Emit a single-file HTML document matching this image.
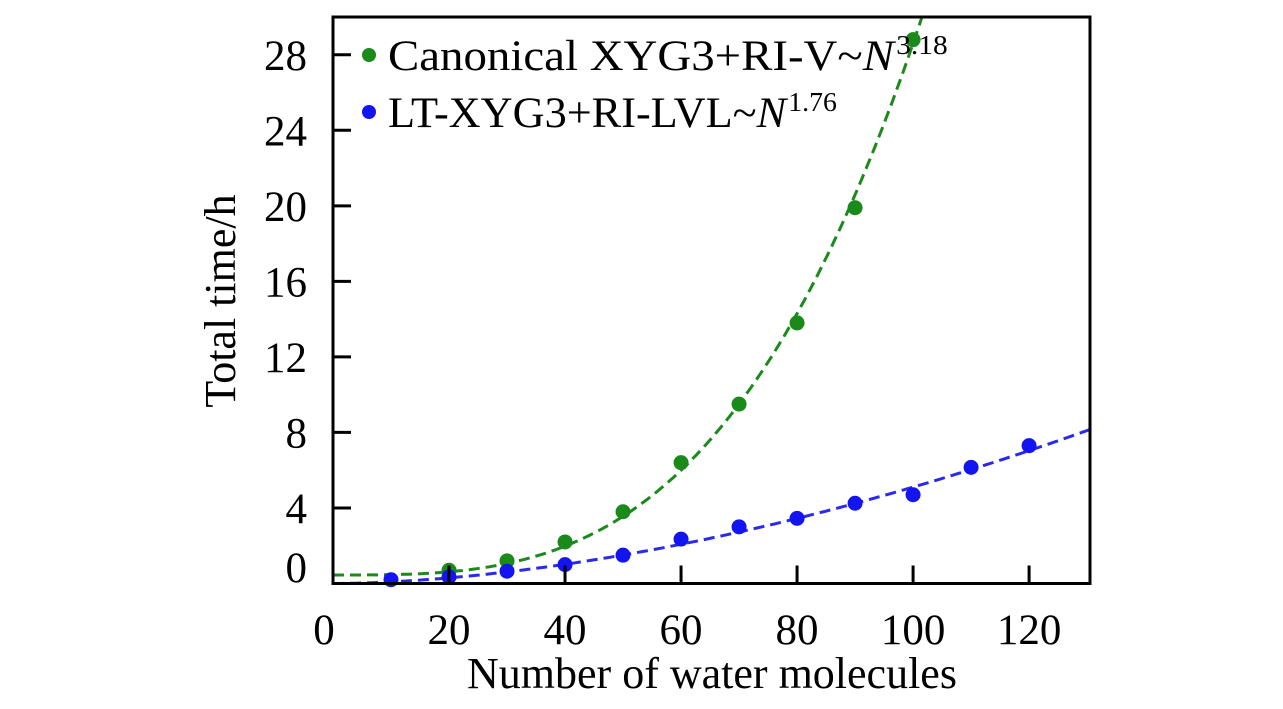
<!DOCTYPE html>
<html><head><meta charset="utf-8"><style>
html,body{margin:0;padding:0;background:#fff;}
svg{display:block;font-family:"Liberation Serif",serif;}
</style></head><body>
<svg id="c" width="1283" height="709" xmlns="http://www.w3.org/2000/svg"></svg>
<script>
const greenX = [20,30,40,50,60,70,80,90,100];
const greenY = [0.7,1.2,2.2,3.8,6.4,9.5,13.8,19.9,28.8];
const blueX = [10,20,30,40,50,60,70,80,90,100,110,120];
const blueY = [0.2,0.35,0.65,1.0,1.5,2.35,3.0,3.45,4.25,4.7,6.15,7.3];
const xTicks = [0,20,40,60,80,100,120];
const yTicks = [0,4,8,12,16,20,24,28];
const greenFit = {a:0.45, y100:28.6, p:3.18};
const blueFit = {a:0.0, y130:8.1, p:1.76};

const L=333,R=1090,T=17,B=583.5,XMAX=130.5,YMAX=30;
const sx=v=>L+v*(R-L)/XMAX, sy=v=>B-v*(B-T)/YMAX;
const svg=document.getElementById('c');
const NS='http://www.w3.org/2000/svg';
function mk(tag,attrs,parent){const e=document.createElementNS(NS,tag);for(const k in attrs)e.setAttribute(k,attrs[k]);(parent||svg).appendChild(e);return e;}

const defs=mk('clipPath',{id:'clip'});mk('rect',{x:L,y:T,width:R-L,height:B-T},defs);

const gb=(greenFit.y100-greenFit.a)/Math.pow(100,greenFit.p);
const bb=(blueFit.y130-blueFit.a)/Math.pow(130,blueFit.p);
let gp='',bp='';
for(let i=0;i<=300;i++){const n=XMAX*i/300;
 gp+=(i?'L':'M')+sx(n).toFixed(1)+','+sy(greenFit.a+gb*Math.pow(n,greenFit.p)).toFixed(1);
 bp+=(i?'L':'M')+sx(n).toFixed(1)+','+sy(blueFit.a+bb*Math.pow(n,blueFit.p)).toFixed(1);}
let e=mk('path',{d:gp,fill:'none',stroke:'#1a8a1a','stroke-width':3,'stroke-dasharray':'11,6','clip-path':'url(#clip)'});

e=mk('path',{d:bp,fill:'none',stroke:'#2a2aee','stroke-width':3,'stroke-dasharray':'11,6','clip-path':'url(#clip)'});


greenX.forEach((x,i)=>{const c=mk('circle',{cx:sx(x),cy:sy(greenY[i]),r:7.5,fill:'#1a8a1a'});
 });
blueX.forEach((x,i)=>{const c=mk('circle',{cx:sx(x),cy:sy(blueY[i]),r:7.5,fill:'#1414f0'});
 });

e=mk('rect',{x:L,y:T,width:R-L,height:B-T,fill:'none',stroke:'#000','stroke-width':3});


xTicks.forEach(t=>{if(t>0)mk('line',{x1:sx(t),x2:sx(t),y1:B,y2:B-18,stroke:'#000','stroke-width':3});
 const tx=mk('text',{x:sx(t)-(t===0?9:0),y:644,'font-size':43,'text-anchor':'middle'});tx.textContent=t;
 });
yTicks.forEach(t=>{if(t>0)mk('line',{x1:L,x2:L+18,y1:sy(t),y2:sy(t),stroke:'#000','stroke-width':3});
 const yy=t===0?567:sy(t);
 const tx=mk('text',{x:307,y:yy+15,'font-size':43,'text-anchor':'end'});tx.textContent=t;
 });

e=mk('text',{x:712,y:688,'font-size':44,'text-anchor':'middle'});e.textContent='Number of water molecules';

e=mk('text',{x:0,y:0,'font-size':44,'text-anchor':'middle',transform:'translate(235,301) rotate(-90)'});e.textContent='Total time/h';


e=mk('circle',{cx:369,cy:55,r:7,fill:'#1a8a1a'});
e=mk('text',{x:388,y:70,'font-size':43,transform:'translate(388,0) scale(1.09,1) translate(-388,0)'});e.innerHTML='Canonical XYG3+RI-V~<tspan font-style="italic">N</tspan><tspan font-size="27" dx="2" dy="-16">3.18</tspan>';

e=mk('circle',{cx:369,cy:112,r:7,fill:'#1414f0'});
e=mk('text',{x:388,y:127,'font-size':43,transform:'translate(388,0) scale(1.03,1) translate(-388,0)'});e.innerHTML='LT-XYG3+RI-LVL~<tspan font-style="italic">N</tspan><tspan font-size="27" dx="2" dy="-16">1.76</tspan>';

</script>
</body></html>
